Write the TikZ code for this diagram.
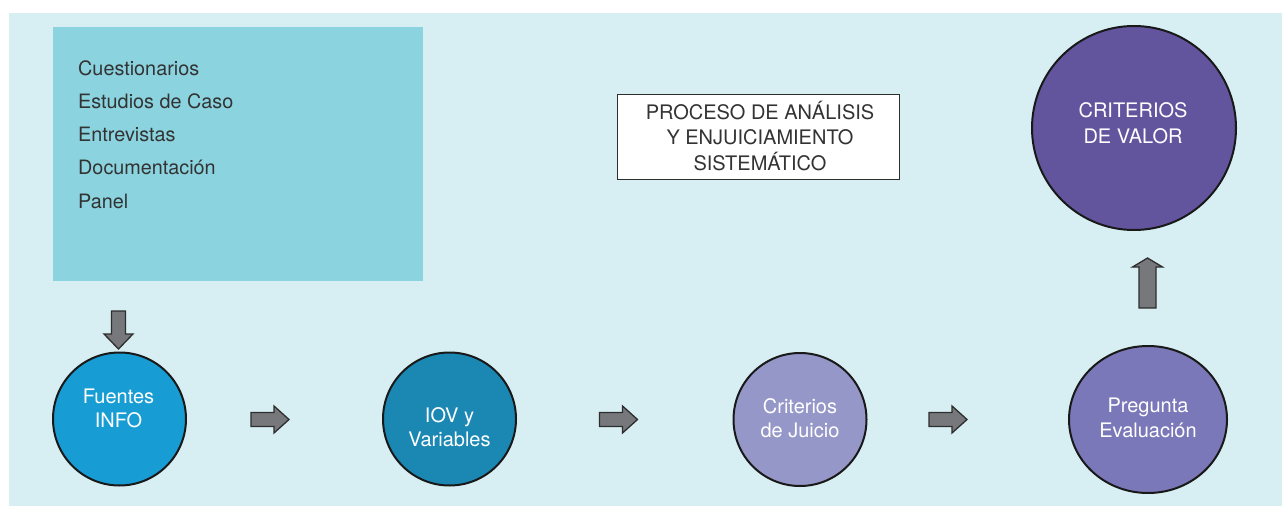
\documentclass[tikz,border=0pt]{standalone}
\usepackage{fontspec}
\setmainfont{TeX Gyre Heros}
\usetikzlibrary{shapes.geometric}

\definecolor{bgpale}{HTML}{D7EFF3}
\definecolor{srcbox}{HTML}{8AD3DF}
\definecolor{cFuentes}{HTML}{179CD3}
\definecolor{cIOV}{HTML}{1B87B3}
\definecolor{cJuicio}{HTML}{9597C8}
\definecolor{cPregunta}{HTML}{7A78B8}
\definecolor{cValor}{HTML}{62559E}
\definecolor{arrowgray}{HTML}{77787B}
\definecolor{inkdark}{HTML}{2E2E2E}
\definecolor{textgray}{HTML}{333333}

\tikzset{
  stage/.style={circle, draw=black!90, line width=2pt, inner sep=0pt, minimum size=133pt},
  lbl/.style={anchor=base, inner sep=0pt, font=\fontsize{20}{24}\selectfont},
  whitelbl/.style={lbl, text=white},
  darklbl/.style={lbl, text=textgray},
  listlbl/.style={anchor=base west, inner sep=0pt, text=textgray, font=\fontsize{19.8}{24}\selectfont},
  arrowbody/.style={fill=arrowgray, draw=inkdark, line width=1.3pt, line join=miter},
  % block arrow: #1 total length, #2 shaft length, #3 shaft half width, #4 head half width
  pics/blockarrow/.style n args={4}{code={
    \draw[arrowbody] (0,-#3) -- (#2,-#3) -- (#2,-#4) -- (#1,0) -- (#2,#4) -- (#2,#3) -- (0,#3) -- cycle;
  }}
}

\begin{document}
\begin{tikzpicture}[x=1pt, y=-1pt]
\useasboundingbox (0,0) rectangle (1282,508);
\fill[white] (0,0) rectangle (1282,508);
\fill[bgpale] (9,13) rectangle (1282,506);

% sources panel
\node[fill=srcbox, minimum width=370pt, minimum height=254pt, inner sep=0pt, anchor=north west] (sources) at (53,27) {};
\foreach \txt [count=\i] in {Cuestionarios, Estudios de Caso, Entrevistas, Documentación, Panel}
  \node[listlbl] (src-\i) at (78,{76+33*(\i-1)}) {\txt};

% title box
\node[draw=inkdark, fill=white, line width=1pt, minimum width=282pt, minimum height=85pt, inner sep=0pt, anchor=north west] (title) at (617,94) {};
\node[darklbl] (title-1) at (760,120) {PROCESO DE ANÁLISIS};
\node[darklbl] (title-2) at (760,145) {Y ENJUICIAMIENTO};
\node[darklbl] (title-3) at (760,170) {SISTEMÁTICO};

% process stages
\node[stage, fill=cFuentes] (fuentes) at (119.5,419) {};
\node[stage, fill=cIOV] (iov) at (449.5,419) {};
\node[stage, fill=cJuicio] (juicio) at (800,419.5) {};
\node[stage, ellipse, fill=cPregunta, minimum width=158pt, minimum height=147pt] (pregunta) at (1148,419.5) {};
\node[stage, fill=cValor, minimum size=204pt] (valor) at (1134,128) {};

\node[whitelbl] (fuentes-1) at (118.5,403) {Fuentes};
\node[whitelbl] (fuentes-2) at (118.5,427) {INFO};
\node[whitelbl] (iov-1) at (449.5,422) {IOV y};
\node[whitelbl] (iov-2) at (449.5,446) {Variables};
\node[whitelbl] (juicio-1) at (800,413) {Criterios};
\node[whitelbl] (juicio-2) at (800,437) {de Juicio};
\node[whitelbl] (pregunta-1) at (1148,412) {Pregunta};
\node[whitelbl] (pregunta-2) at (1148,437) {Evaluación};
\node[whitelbl] (valor-1) at (1133,118) {CRITERIOS};
\node[whitelbl] (valor-2) at (1133,143) {DE VALOR};

% block arrows
\pic[rotate=-90] (down) at (118.5,311) {blockarrow={38}{23}{7}{14.5}};
\pic (a1) at (251,419.5) {blockarrow={38}{23}{7}{13.5}};
\pic (a2) at (599.5,419.5) {blockarrow={38}{23}{7}{13.5}};
\pic (a3) at (929,419.5) {blockarrow={38}{23}{7}{13.5}};
\pic[rotate=90] (up) at (1147.5,308) {blockarrow={50}{41}{8.5}{15}};
\end{tikzpicture}
\end{document}
